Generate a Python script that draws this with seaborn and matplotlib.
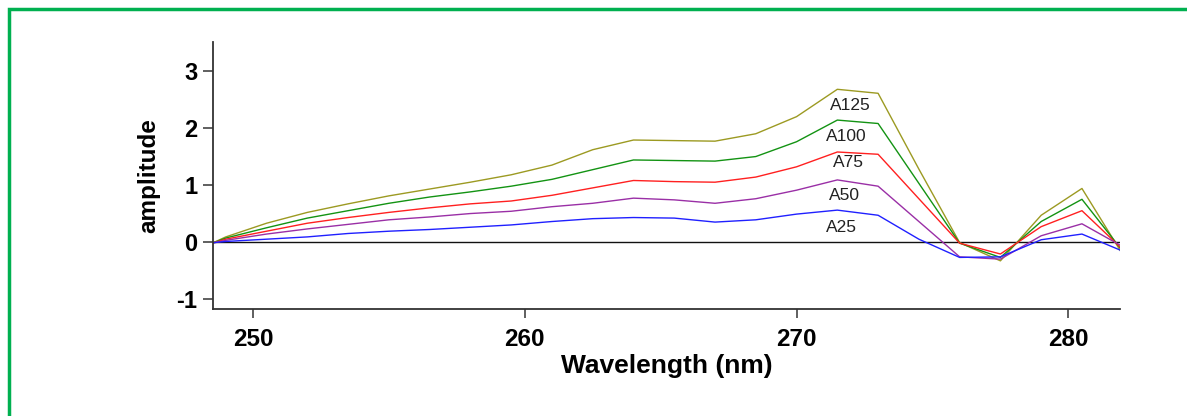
import numpy as np
import pandas as pd
import seaborn as sns
import matplotlib.pyplot as plt
from matplotlib.lines import Line2D

# wavelength grid (nm), 1.5 nm steps
wavelength = [247.5, 249.0, 250.5, 252.0, 253.5, 255.0, 256.5, 258.0, 259.5, 261.0,
              262.5, 264.0, 265.5, 267.0, 268.5, 270.0, 271.5, 273.0, 274.5, 276.0,
              277.5, 279.0, 280.5, 282.0]

# amplitudes
a125 = [-0.24, 0.09, 0.33, 0.52, 0.67, 0.81, 0.93, 1.05, 1.18, 1.35,
        1.62, 1.79, 1.78, 1.77, 1.90, 2.20, 2.68, 2.61, 1.28, -0.01,
        -0.33, 0.47, 0.94, -0.22]
a100 = [-0.20, 0.07, 0.25, 0.42, 0.55, 0.68, 0.79, 0.88, 0.98, 1.10,
        1.27, 1.44, 1.43, 1.42, 1.50, 1.76, 2.14, 2.08, 1.03, -0.02,
        -0.27, 0.36, 0.75, -0.16]
a75 = [-0.16, 0.05, 0.19, 0.33, 0.43, 0.52, 0.60, 0.67, 0.72, 0.82,
       0.95, 1.08, 1.06, 1.05, 1.14, 1.32, 1.58, 1.54, 0.76, -0.02,
       -0.21, 0.27, 0.55, -0.13]
a50 = [-0.12, 0.03, 0.14, 0.23, 0.31, 0.39, 0.44, 0.50, 0.54, 0.62,
       0.68, 0.77, 0.74, 0.68, 0.76, 0.91, 1.09, 0.98, 0.36, -0.26,
       -0.30, 0.11, 0.32, -0.08]
a25 = [-0.06, 0.01, 0.05, 0.09, 0.15, 0.19, 0.22, 0.26, 0.30, 0.36,
       0.41, 0.43, 0.42, 0.35, 0.39, 0.49, 0.56, 0.47, 0.05, -0.27,
       -0.26, 0.04, 0.14, -0.16]

series_names = ["A125", "A100", "A75", "A50", "A25"]
series_vals = [a125, a100, a75, a50, a25]
colors = ["#9c9a22", "#139313", "#ff2020", "#9a2fa6", "#2020ff"]

# label positions (data coords)
label_x = [271.99, 271.84, 271.91, 271.76, 271.65]
label_y = [2.40, 1.86, 1.40, 0.81, 0.25]

rows = []
for name, vals in zip(series_names, series_vals):
    for w, v in zip(wavelength, vals):
        rows.append({"wavelength": w, "amplitude": v, "series": name})
df = pd.DataFrame(rows)

sns.set_style("white")
plt.rcParams['font.family'] = ['Liberation Sans', 'DejaVu Sans']
plt.rcParams['axes.unicode_minus'] = False

fig = plt.figure(figsize=(11.87, 4.16), dpi=100)
ax = fig.add_axes([213 / 1187, 1 - 309 / 416, (1120 - 213) / 1187, (309 - 42) / 416])

ax.axhline(0, color="#111111", lw=1.0, zorder=1)
sns.lineplot(data=df, x="wavelength", y="amplitude", hue="series",
             hue_order=series_names, palette=colors, lw=1.0,
             legend=False, ax=ax, zorder=2)

for name, lx, ly in zip(series_names, label_x, label_y):
    ax.text(lx, ly, name, ha="center", va="center", fontsize=12.5, color="#222222")

ax.set_xlim(248.53, 281.9)
ax.set_ylim(-1.175, 3.51)
ax.set_xticks([250, 260, 270, 280])
ax.set_yticks([-1, 0, 1, 2, 3])
ax.set_xlabel("Wavelength (nm)", fontsize=19, fontweight="bold", labelpad=2, color="black")
ax.set_ylabel("amplitude", fontsize=17.5, fontweight="bold", labelpad=12, color="black")

for s in ["top", "right"]:
    ax.spines[s].set_visible(False)
for s in ["left", "bottom"]:
    ax.spines[s].set_color("#333333")
    ax.spines[s].set_linewidth(1.3)

ax.tick_params(axis="y", length=7.2, width=1.2, color="#444444", pad=4,
               labelsize=17, direction="out", left=True, labelcolor="black")
ax.tick_params(axis="x", length=6.5, width=1.2, color="#444444", pad=7,
               labelsize=17.5, direction="out", bottom=True, labelcolor="black")
for lab in ax.get_xticklabels() + ax.get_yticklabels():
    lab.set_fontweight("bold")

# green frame at top and left
fig.add_artist(Line2D([9.5 / 1187, 9.5 / 1187, 1.0], [0.0, 1 - 8.5 / 416, 1 - 8.5 / 416],
                      transform=fig.transFigure, color="#00b050", lw=2.5,
                      solid_joinstyle="miter"))

fig.savefig("out.png", dpi=100)
